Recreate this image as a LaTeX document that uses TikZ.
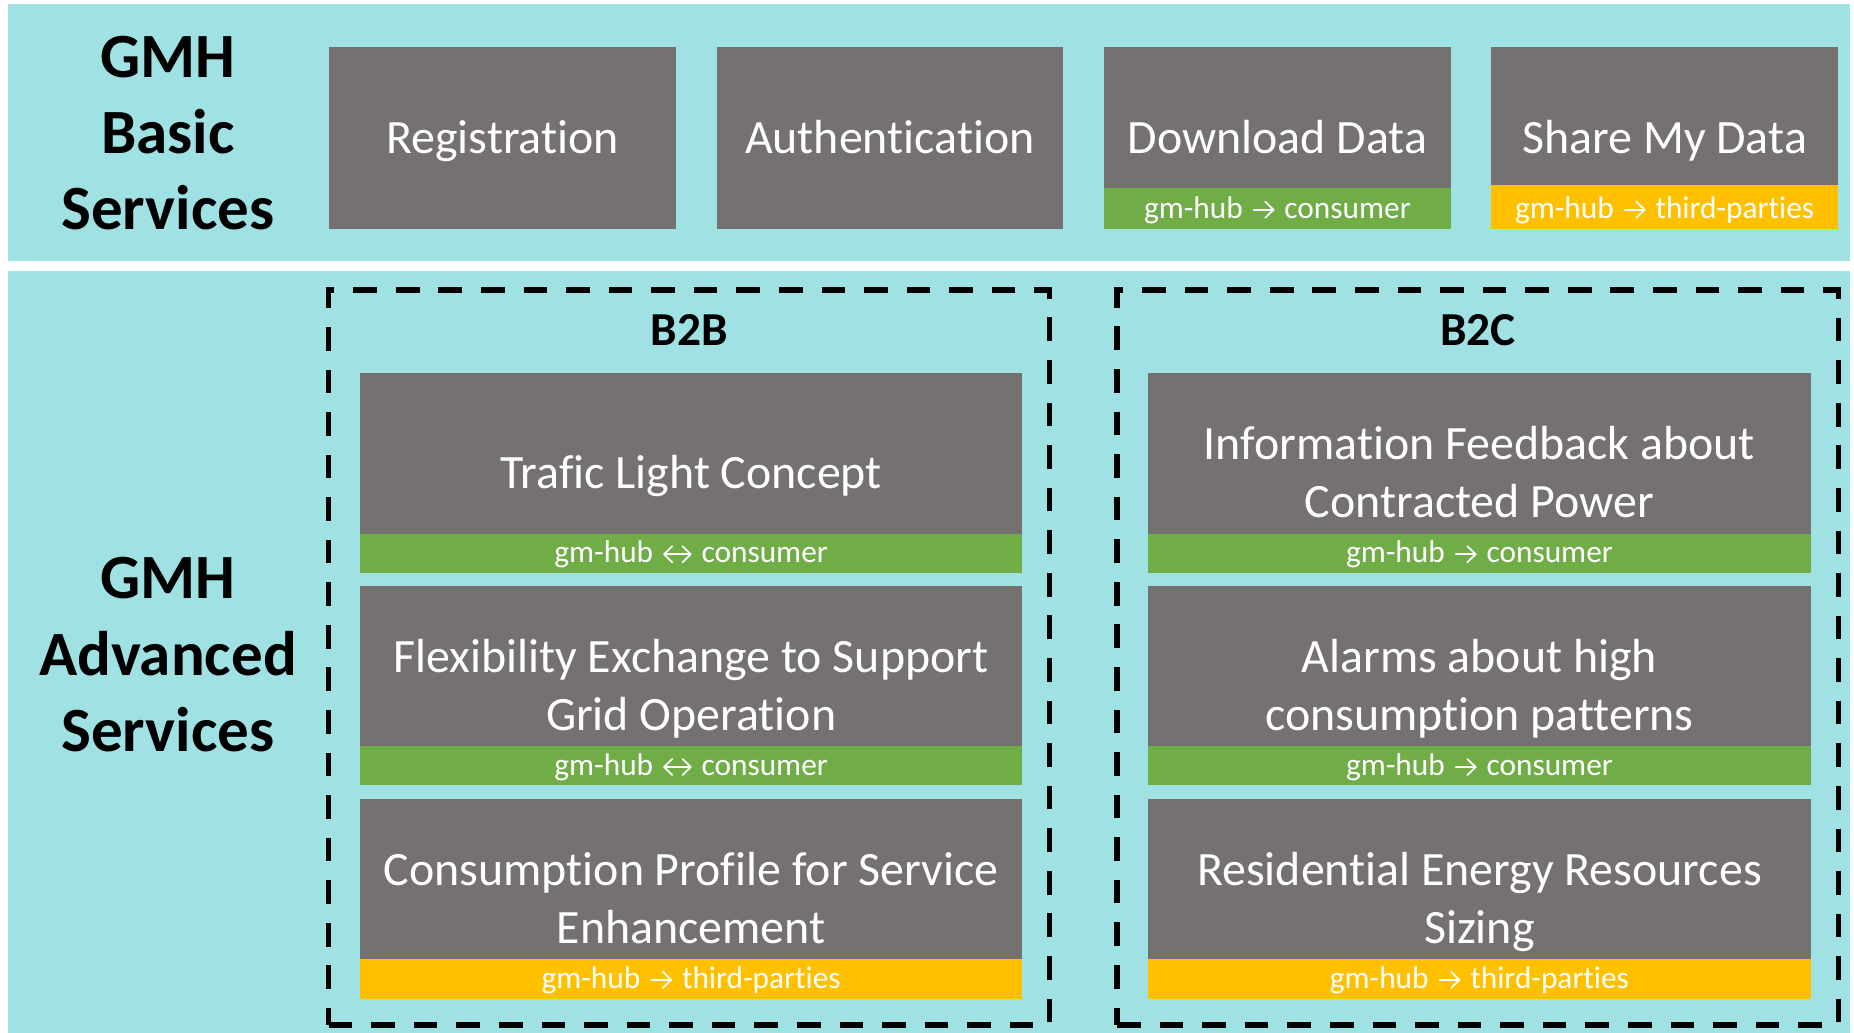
\documentclass[tikz,border=0pt]{standalone}
\usepackage{fontspec}
\setmainfont{Carlito}[Ligatures={NoCommon,NoContextual}]
\definecolor{panelteal}{RGB}{160,226,227}
\definecolor{boxgray}{RGB}{118,113,113}
\definecolor{bandgreen}{RGB}{112,173,71}
\definecolor{bandyellow}{RGB}{255,192,0}
\newcommand{\ra}{\hspace{2.5pt}\tikz[x=1pt,y=1pt,baseline=0pt,line width=1.5pt,line cap=round,line join=round]{\draw[white] (0.8,7.3) -- (17.6,7.3); \draw[white] (10.6,0.5) -- (17.6,7.3) -- (10.6,14.1);}\hspace{2.5pt}}
\newcommand{\lra}{\hspace{2.5pt}\tikz[x=1pt,y=1pt,baseline=0pt,line width=1.5pt,line cap=round,line join=round]{\draw[white] (0.8,7.3) -- (23.2,7.3); \draw[white] (7.6,0.5) -- (0.8,7.3) -- (7.6,14.1); \draw[white] (16.4,0.5) -- (23.2,7.3) -- (16.4,14.1);}\hspace{2.5pt}}
\tikzset{
  panel/.style={fill=panelteal, draw=none, inner sep=0pt, outer sep=0pt, anchor=north west},
  svc/.style={fill=boxgray, draw=none, inner sep=0pt, outer sep=0pt, anchor=north west},
  gband/.style={fill=bandgreen, draw=none, inner sep=0pt, outer sep=0pt, anchor=south west},
  yband/.style={fill=bandyellow, draw=none, inner sep=0pt, outer sep=0pt, anchor=south west},
  maintext/.style={text=white, inner sep=0pt, anchor=base, font=\fontsize{40.5}{48.8}\selectfont},
  bandtext/.style={text=white, inner sep=0pt, anchor=base, font=\fontsize{26.5}{30}\selectfont},
  sidelabel/.style={text=black, inner sep=0pt, anchor=base, font=\fontsize{53.3}{64.7}\selectfont\bfseries},
  grplabel/.style={text=black, inner sep=0pt, anchor=base, font=\fontsize{40}{48}\selectfont\bfseries},
  dashbox/.style={draw=black, line width=4.5pt, dash pattern=on 20pt off 16pt, fill=none, inner sep=0pt, outer sep=0pt, anchor=north west}
}
\begin{document}
\begin{tikzpicture}[x=1pt,y=-1pt]
\useasboundingbox[fill=white] (0,0) rectangle (1568,873.6);
% panels
\node[panel, minimum width=1558, minimum height=217.1] (toppanel) at (7,3.4) {};
\node[panel, minimum width=1558, minimum height=644.6] (botpanel) at (7,229) {};
% side labels
\node[sidelabel] (gmhA) at (142,65.7) {GMH};
\node[sidelabel] (gmhB) at (142,130.2) {Basic};
\node[sidelabel] (gmhC) at (142,194.5) {Services};
\node[sidelabel] (advA) at (142,506) {GMH};
\node[sidelabel] (advB) at (142,570.9) {Advanced};
\node[sidelabel] (advC) at (142,635.7) {Services};
% basic services
\node[svc, minimum width=294, minimum height=153.9] (reg) at (278,39.8) {};
\node[svc, minimum width=293, minimum height=153.9] (auth) at (606,39.8) {};
\node[svc, minimum width=293.5, minimum height=153.9] (dl) at (933.5,39.8) {};
\node[svc, minimum width=293.6, minimum height=153.9] (share) at (1261,39.8) {};
\node[gband, minimum width=293.5, minimum height=34.7] (dlband) at (933.5,193.7) {};
\node[yband, minimum width=293.6, minimum height=37.2] (shareband) at (1261,193.7) {};
\node[maintext] (regt) at (425,130.2) {Registration};
\node[maintext] (autht) at (752.5,130.2) {Authentication};
\node[maintext] (dlt) at (1080.3,130.2) {Download Data};
\node[maintext] (sharet) at (1407.8,130.2) {Share My Data};
\node[bandtext] (dlbt) at (1080.3,184.7) {gm-hub \ra{} consumer};
\node[bandtext] (sharebt) at (1407.8,184.7) {gm-hub \ra{} third-parties};
% group boxes
\node[dashbox, minimum width=609.6, minimum height=621.6] (b2bbox) at (278,245.3) {};
\node[dashbox, minimum width=609.8, minimum height=621.6] (b2cbox) at (944.8,245.3) {};
\node[grplabel] (b2b) at (583,291.8) {B2B};
\node[grplabel] (b2c) at (1250,291.8) {B2C};
% B2B services
\node[svc, minimum width=560.1, minimum height=168.8] (tl) at (304.4,315.5) {};
\node[gband, minimum width=560.1, minimum height=32.7] (tlband) at (304.4,484.3) {};
\node[svc, minimum width=560.1, minimum height=168.6] (flex) at (304.4,495.6) {};
\node[gband, minimum width=560.1, minimum height=33.3] (flexband) at (304.4,664.2) {};
\node[svc, minimum width=560.1, minimum height=169.5] (cp) at (304.4,675.7) {};
\node[yband, minimum width=560.1, minimum height=34.2] (cpband) at (304.4,845.2) {};
\node[maintext] (tlt) at (584.5,413) {Trafic Light Concept};
\node[maintext] (flext1) at (584.5,569) {Flexibility Exchange to Support};
\node[maintext] (flext2) at (584.5,617.8) {Grid Operation};
\node[maintext] (cpt1) at (584.5,749) {Consumption Profile for Service};
\node[maintext] (cpt2) at (584.5,797.8) {Enhancement};
\node[bandtext] (tlbt) at (584.5,476) {gm-hub \lra{} consumer};
\node[bandtext] (flexbt) at (584.5,656) {gm-hub \lra{} consumer};
\node[bandtext] (cpbt) at (584.5,836) {gm-hub \ra{} third-parties};
% B2C services
\node[svc, minimum width=560.8, minimum height=168.8] (info) at (970.8,315.5) {};
\node[gband, minimum width=560.8, minimum height=32.7] (infoband) at (970.8,484.3) {};
\node[svc, minimum width=560.8, minimum height=168.6] (alarm) at (970.8,495.6) {};
\node[gband, minimum width=560.8, minimum height=33.3] (alarmband) at (970.8,664.2) {};
\node[svc, minimum width=560.8, minimum height=169.5] (res) at (970.8,675.7) {};
\node[yband, minimum width=560.8, minimum height=34.2] (resband) at (970.8,845.2) {};
\node[maintext] (infot1) at (1251.2,389) {Information Feedback about};
\node[maintext] (infot2) at (1251.2,437.8) {Contracted Power};
\node[maintext] (alarmt1) at (1251.2,569) {Alarms about high};
\node[maintext] (alarmt2) at (1251.2,617.8) {consumption patterns};
\node[maintext] (rest1) at (1251.2,749) {Residential Energy Resources};
\node[maintext] (rest2) at (1251.2,797.8) {Sizing};
\node[bandtext] (infobt) at (1251.2,476) {gm-hub \ra{} consumer};
\node[bandtext] (alarmbt) at (1251.2,656) {gm-hub \ra{} consumer};
\node[bandtext] (resbt) at (1251.2,836) {gm-hub \ra{} third-parties};
\end{tikzpicture}
\end{document}
